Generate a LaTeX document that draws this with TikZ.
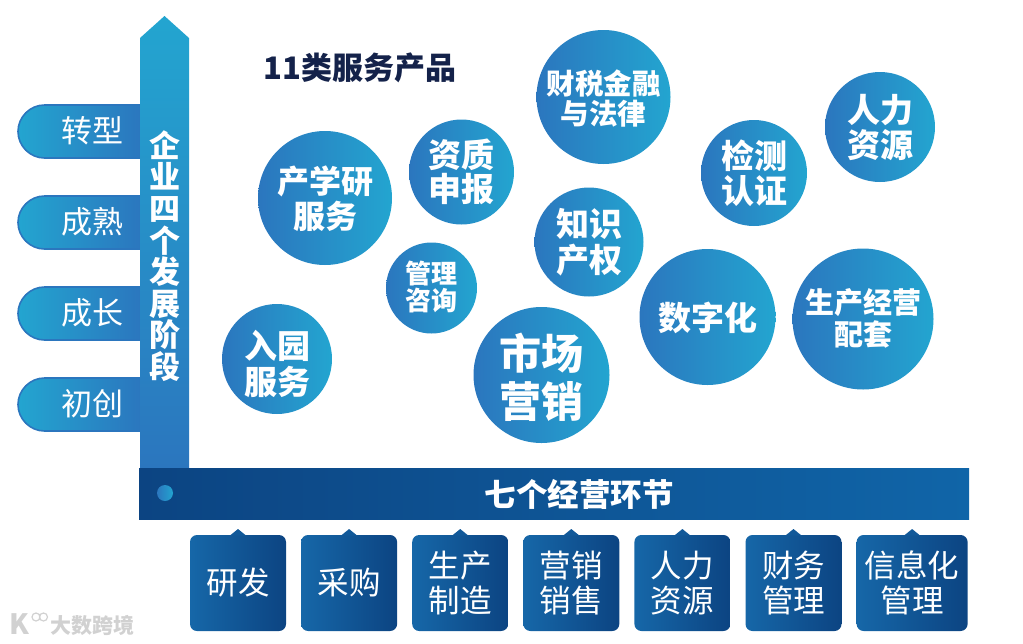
\documentclass[tikz,border=0pt]{standalone}
\usepackage{fontspec}
\setmainfont{Noto Sans CJK SC}
\usetikzlibrary{calc}
\definecolor{lightb}{HTML}{23A5D0}
\definecolor{midb}{HTML}{2B76BE}
\definecolor{darkb}{HTML}{0C4482}
\definecolor{barr}{HTML}{1065A8}
\definecolor{boxl}{HTML}{1667A8}
\definecolor{navy}{HTML}{14224A}
\newcommand{\fs}[2]{\fontsize{#1}{#2}\selectfont}
\tikzset{
  svc/.style={circle,inner sep=0pt,left color=midb,right color=lightb},
  svctext/.style={text=white,align=center,inner sep=0pt},
  pill/.style={text=white,font=\fs{31}{34}},
  stagebox/.style={text=white,align=center,font=\fs{31.5}{34.5}},
}
% name, x, y, diameter, font size, line pitch, text shift, text
\newcommand{\bub}[8]{%
  \node[svc,minimum size=#4pt] (#1) at (#2,#3) {};
  \node[svctext,font=\fs{#5}{#6}\bfseries] (#1t) at ($(#1)+(0,#7)$) {#8};
}
\begin{document}
\begin{tikzpicture}[x=1pt,y=-1pt]
\useasboundingbox (0,0) rectangle (1023,643);
% pills
\foreach \y/\t/\n in {105/转型/p1,196/成熟/p2,287/成长/p3,378/初创/p4}{
  \draw[draw=midb,line width=1.6pt,left color=lightb,right color=midb]
    (142,\y) -- (44.5,\y) .. controls (30,\y) and (18,\y+12) .. (18,\y+26.5) .. controls (18,\y+41) and (30,\y+53) .. (44.5,\y+53) -- (142,\y+53) -- cycle;
  \node[pill] (\n) at (92,\y+26) {\t};
}
% vertical arrow
\shade[top color=lightb,middle color=lightb!75!midb,bottom color=midb] (140,468) -- (140,38) -- (164.5,16) -- (189,38) -- (189,468) -- cycle;
\node[text=white,align=center,inner sep=0pt,font=\fs{31}{31.6}\bfseries] (stage) at (164.5,256) {企\\业\\四\\个\\发\\展\\阶\\段};
% bar
\shade[left color=darkb,right color=barr] (139,468) rectangle (969,519);
\node[circle,minimum size=16pt,inner sep=0pt,left color=midb,right color=lightb] (dot) at (165,493) {};
\node[text=white,font=\fs{31.5}{34}\bfseries] (seven) at (579,494) {七个经营环节};
% title
\node[text=navy,font=\fs{31}{34}\bfseries] (title) at (360,68) {11类服务产品};
% bubbles
\bub{b1}{603.5}{97}{134}{28.5}{30}{1.5}{财税金融\\与法律}
\bub{b2}{880}{127}{110}{33}{35}{0.5}{人力\\资源}
\bub{b3}{754}{173}{106}{33}{35}{0.5}{检测\\认证}
\bub{b4}{461.5}{172}{105}{33}{33.5}{0}{资质\\申报}
\bub{b5}{325}{198}{134}{32}{35}{0.5}{产学研\\服务}
\bub{b6}{589}{242}{109}{33}{36}{0}{知识\\产权}
\bub{b7}{431.5}{288}{91}{26}{27.5}{-1}{管理\\咨询}
\bub{b8}{707.5}{317}{136}{33}{36}{0.5}{数字化}
\bub{b9}{863}{319}{141}{29}{32.5}{-0.5}{生产经营\\配套}
\bub{b10}{277}{359}{110}{33}{35.5}{5}{入园\\服务}
\bub{b11}{541.5}{375}{136}{42}{47.5}{2.5}{市场\\营销}
% boxes
\foreach \i/\t/\n/\w in {0/研发/s1/96,1/采购/s2/96,2/生产\\制造/s3/96,3/营销\\销售/s4/96,4/人力\\资源/s5/96,5/财务\\管理/s6/96,6/信息化\\管理/s7/111}{
  \pgfmathsetmacro\xx{190+111.1*\i}
  \shade[left color=boxl,right color=darkb,rounded corners=7pt] (\xx,535) rectangle ++(\w,96);
  \fill[boxl!60!darkb] (\xx+\w/2-8,535.5) -- (\xx+\w/2,529) -- (\xx+\w/2+8,535.5) -- cycle;
  \node[stagebox] (\n) at (\xx+\w/2,583) {\t};
}
% watermark
\node[text=black!18,font=\fs{21}{24}\bfseries] (wm) at (92,625) {大数跨境};
\node[text=black!18,font=\fs{28}{30}\bfseries] (wk) at (19,624) {K};
\draw[black!18,line width=1.2pt] (36,617) circle (4) (43.5,617) circle (4);
\end{tikzpicture}
\end{document}
